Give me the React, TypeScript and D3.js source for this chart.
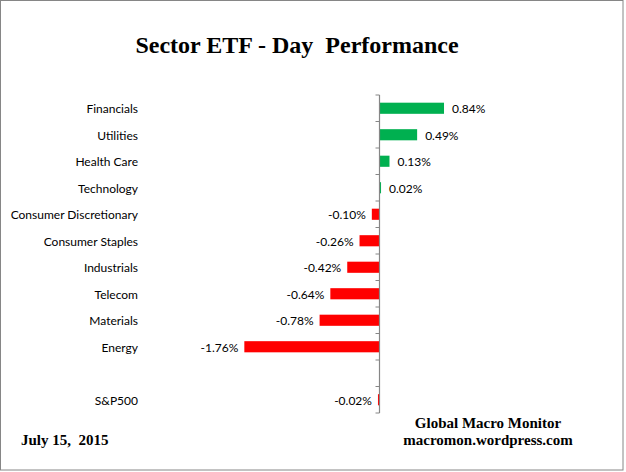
import React from 'react';
import * as d3 from 'd3';

const categories = [
  'Financials',
  'Utilities',
  'Health Care',
  'Technology',
  'Consumer Discretionary',
  'Consumer Staples',
  'Industrials',
  'Telecom',
  'Materials',
  'Energy',
  '',
  'S&P500',
];
const values: (number | null)[] = [0.84, 0.49, 0.13, 0.02, -0.1, -0.26, -0.42, -0.64, -0.78, -1.76, null, -0.02];

const W = 626;
const H = 472;
const labelFont = 'Lato, "Open Sans", sans-serif';
const serif = '"Liberation Serif", "Times New Roman", serif';

export default function App() {
  const x = d3.scaleLinear().domain([-2, 1]).range([225.9, 456.3]);
  const y = d3
    .scaleBand<number>()
    .domain(categories.map((_, i) => i))
    .range([95, 413])
    .padding(0);
  const step = y.step();
  const barH = step * 0.42;
  const x0 = x(0);
  const fmt = (v: number) => `${v.toFixed(2)}%`;

  return (
    <div style={{ position: 'absolute', left: 0, top: 0 }}>
      <svg width={W} height={H} style={{ display: 'block' }}>
        <rect x={0} y={0} width={W} height={H} fill="#fff" />
        <rect x={0.5} y={0.5} width={622.5} height={469.5} fill="none" stroke="#868686" strokeWidth={1} />

        <text x={297} y={53} textAnchor="middle" fontFamily={serif} fontWeight="bold" fontSize={24} fill="#000">
          Sector ETF - Day{'\u00a0\u00a0'}Performance
        </text>

        {categories.map((c, i) => {
          const v = values[i];
          const cy = (y(i) as number) + step / 2;
          return (
            <g key={i}>
              <text x={138} y={cy + 1} dy="0.35em" textAnchor="end" fontFamily={labelFont} fontSize={12} fill="#000">
                {c}
              </text>
              {v !== null && (
                <>
                  <rect
                    x={Math.min(x(v), x0)}
                    y={cy - barH / 2}
                    width={Math.abs(x(v) - x0)}
                    height={barH}
                    fill={v >= 0 ? '#00B050' : '#FF0000'}
                  />
                  <text
                    x={v >= 0 ? x(v) + 8 : x(v) - 6}
                    y={cy + 1}
                    dy="0.35em"
                    textAnchor={v >= 0 ? 'start' : 'end'}
                    fontFamily={labelFont}
                    fontSize={12}
                    fill="#000"
                  >
                    {fmt(v)}
                  </text>
                </>
              )}
            </g>
          );
        })}

        <line x1={x0} x2={x0} y1={95} y2={413} stroke="#868686" strokeWidth={1.2} />
        {d3.range(categories.length + 1).map(i => {
          const ty = 95 + i * step;
          return <line key={i} x1={x0 - 4} x2={x0} y1={ty} y2={ty} stroke="#868686" strokeWidth={1} />;
        })}

        <text x={21} y={445} fontFamily={serif} fontWeight="bold" fontSize={15} fill="#000">
          July 15,{'\u00a0\u00a0'}2015
        </text>
        <text x={488} y={428} textAnchor="middle" fontFamily={serif} fontWeight="bold" fontSize={15} fill="#000">
          Global Macro Monitor
        </text>
        <text x={488} y={445} textAnchor="middle" fontFamily={serif} fontWeight="bold" fontSize={15} fill="#000">
          macromon.wordpress.com
        </text>
      </svg>
    </div>
  );
}
